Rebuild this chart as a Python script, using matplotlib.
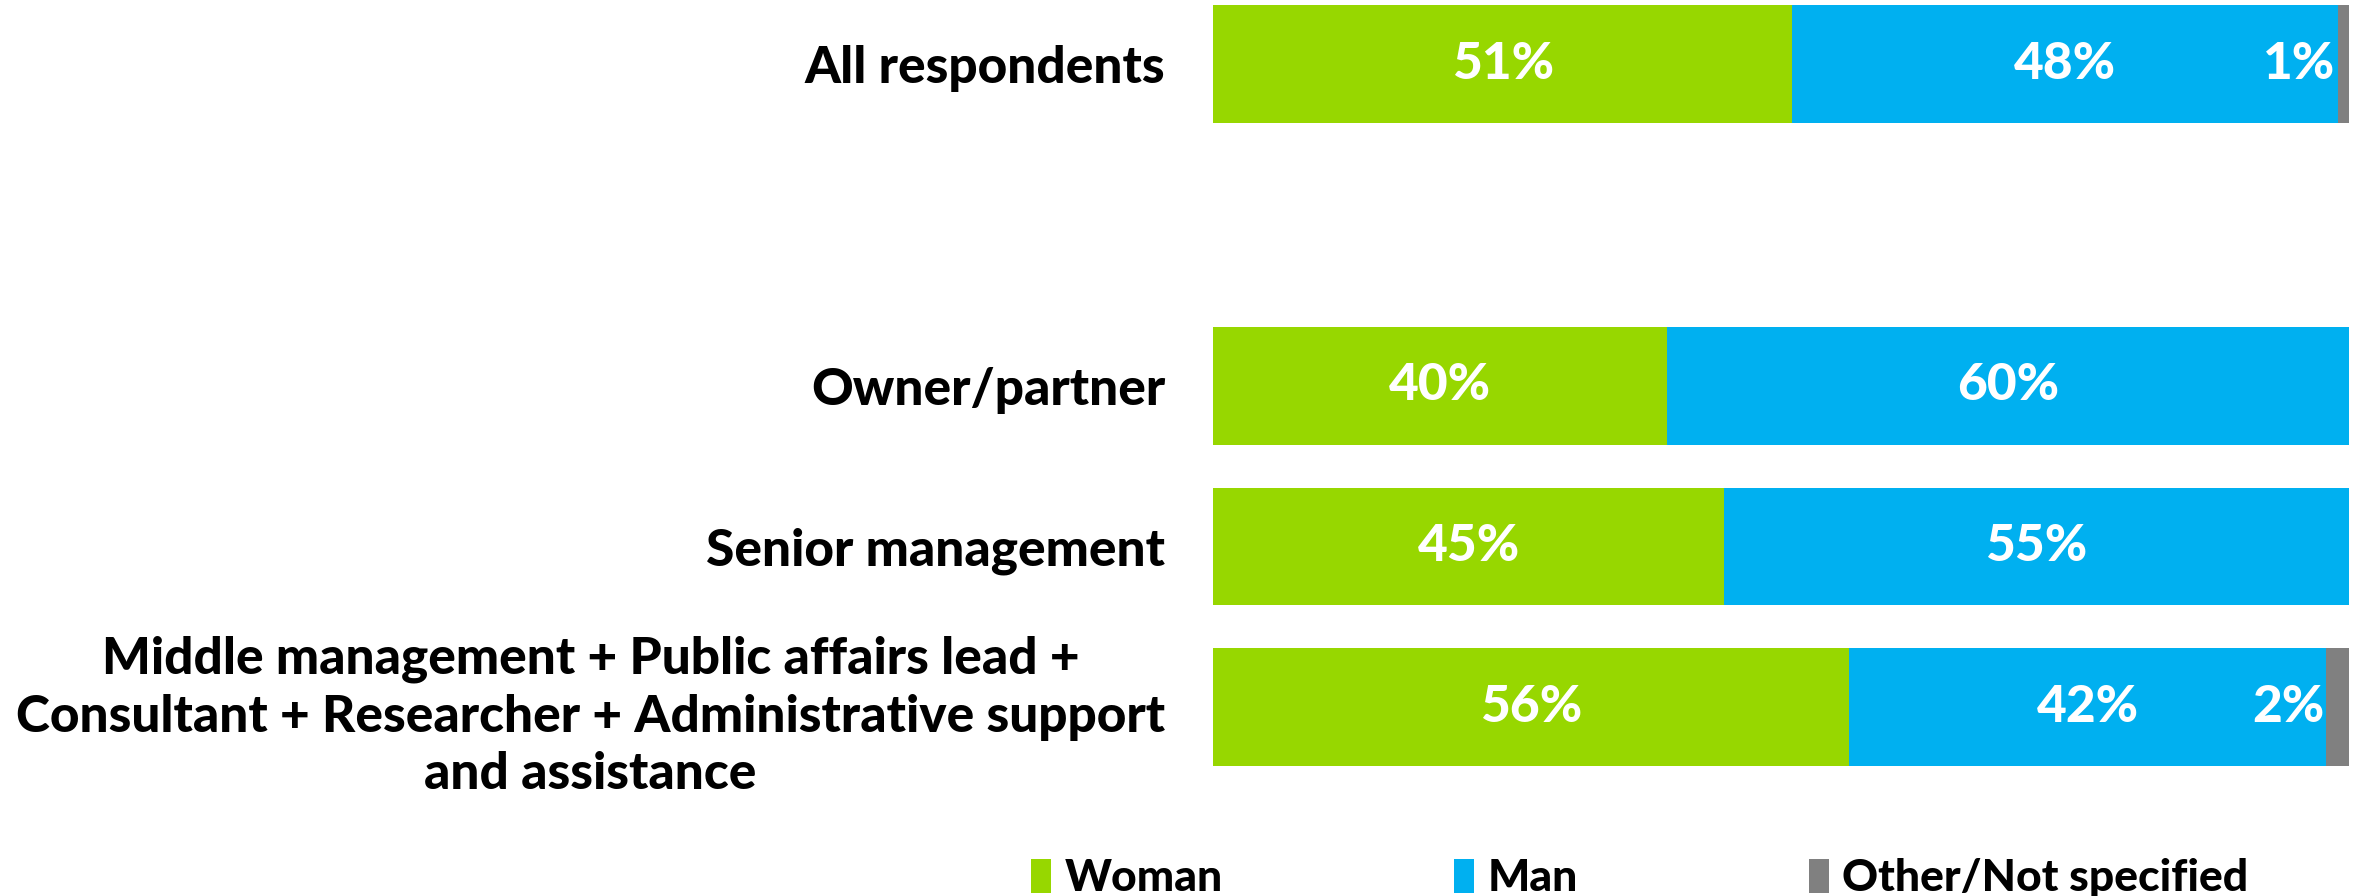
import matplotlib
matplotlib.use("Agg")
import matplotlib.pyplot as plt

# Gender split by role
categories = [
    "All respondents",
    "Owner/partner",
    "Senior management",
    "Middle management + Public affairs lead +\nConsultant + Researcher + Administrative support\nand assistance",
]
row_pos = [0, 2, 3, 4]  # one empty row between the total and the roles

series = ["Woman", "Man", "Other/Not specified"]
woman = [51, 40, 45, 56]
man = [48, 60, 55, 42]
other = [1, 0, 0, 2]

colors = ["#97d700", "#00b0f0", "#808080"]

plt.rcParams["font.family"] = ["Lato", "DejaVu Sans"]
plt.rcParams["font.weight"] = "black"

fig = plt.figure(figsize=(23.56, 8.96), dpi=100)
ax = fig.add_axes([1213 / 2356, 1 - 771.4 / 896, (2349 - 1213) / 2356, 771.4 / 896])

bar_h = 0.733
left = [0] * len(categories)
for name, vals, col in zip(series, [woman, man, other], colors):
    bars = ax.barh(row_pos, vals, left=left, height=bar_h, color=col,
                   label=name, linewidth=0)
    for b, v, l in zip(bars, vals, left):
        if v == 0:
            continue
        cy = b.get_y() + b.get_height() / 2
        if v < 5:
            # small segment: label sits just left of it
            ax.text(l - 0.2, cy, f"{v}%", ha="right", va="center",
                    color="white", fontsize=37, fontweight="black")
        else:
            ax.text(l + v / 2, cy, f"{v}%", ha="center", va="center",
                    color="white", fontsize=37, fontweight="black")
    left = [a + b for a, b in zip(left, vals)]

ax.set_xlim(0, 100)
ax.set_ylim(4.4, -0.4)
ax.set_yticks(row_pos)
ax.set_yticklabels(categories, fontsize=37, fontweight="black",
                   multialignment="center", linespacing=1.28)
ax.tick_params(axis="y", length=0, pad=34.5)
ax.set_xticks([])
for s in ax.spines.values():
    s.set_visible(False)

fig.legend(loc="center", bbox_to_anchor=(0.696, 0.02), ncol=3, frameon=False,
           handlelength=0.45, handleheight=0.8, handletextpad=0.3,
           columnspacing=5.2, borderpad=0, prop={"weight": "black", "size": 32})

fig.savefig("out.png", dpi=100)
